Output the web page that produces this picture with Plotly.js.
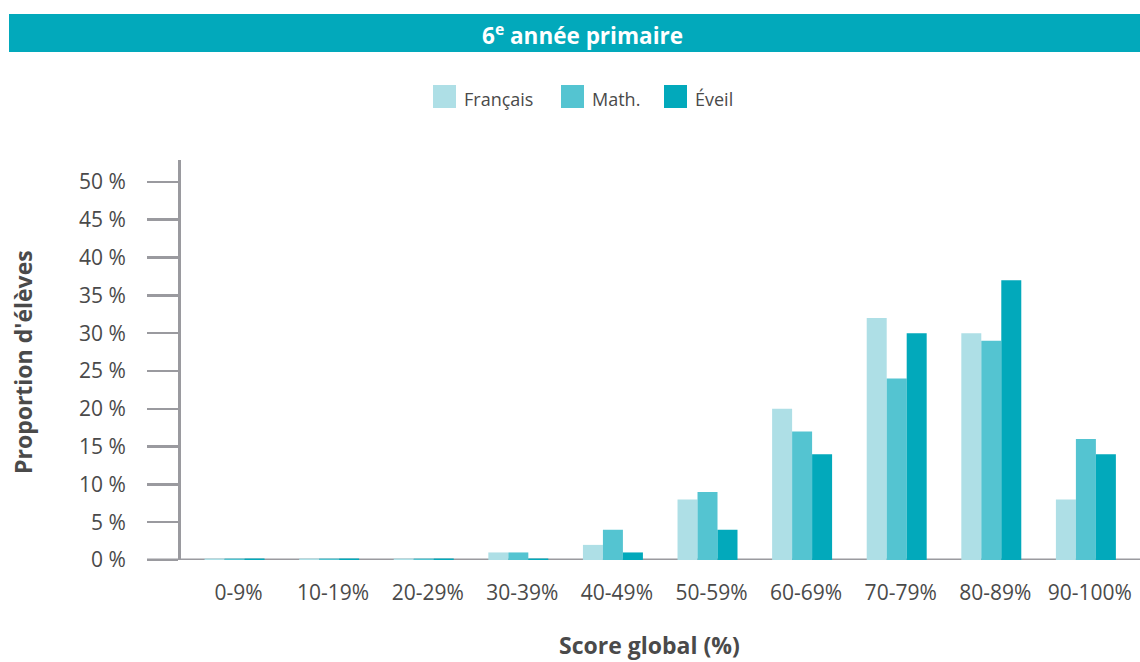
<!DOCTYPE html>
<html>
<head>
<meta charset="utf-8">
<script src="https://cdn.plot.ly/plotly-3.0.1.min.js"></script>
<style>html,body{margin:0;padding:0;background:#fff;}#chart{width:1140px;height:662px;}</style>
</head>
<body>
<div id="chart"></div>
<script>
// ---- data ----
const categories = ['0-9%','10-19%','20-29%','30-39%','40-49%','50-59%','60-69%','70-79%','80-89%','90-100%'];
const seriesNames = ['Français','Math.','Éveil'];
const francais = [0.2, 0.2, 0.2, 1, 2, 8, 20, 32, 30, 8];
const math     = [0.2, 0.2, 0.2, 1, 4, 9, 17, 24, 29, 16];
const eveil    = [0.2, 0.2, 0.2, 0.2, 1, 4, 14, 30, 37, 14];
const yTickVals = [0, 5, 10, 15, 20, 25, 30, 35, 40, 45, 50];
const yTickText = ['0 %', '5 %', '10 %', '15 %', '20 %', '25 %', '30 %', '35 %', '40 %', '45 %', '50 %'];
const chartTitle = '6<sup>e</sup> année primaire';
const xTitle = 'Score global (%)';
const yTitle = "Proportion d'élèves";

// ---- styling ----
const W = 1140, H = 662;
const px = x => x / W;
const py = y => 1 - y / H;
const colors = ['#aedfe6', '#54c4d1', '#02a9bb'];
const axisGray = '#9a9a9f';
const textGray = '#4a4a4a';
const FONT = 'Open Sans, Noto Sans, sans-serif';

const values = [francais, math, eveil];
const traces = values.map((v, i) => ({
  type: 'bar', x: categories, y: v, name: seriesNames[i],
  marker: {color: colors[i], line: {width: 0}},
  hoverinfo: 'x+y', showlegend: false
}));

// custom legend (larger swatches like the reference)
const legendSwatchX = [433, 561, 664];
const shapes = [
  // title band
  {type: 'rect', xref: 'paper', yref: 'paper', x0: px(9), x1: px(1140), y0: py(52), y1: py(14),
   fillcolor: '#02a9bb', line: {width: 0}, layer: 'below'},
  // baseline
  {type: 'line', xref: 'paper', yref: 'y', x0: px(147), x1: px(1140), y0: 0, y1: 0,
   line: {color: axisGray, width: 3}, layer: 'below'}
];
const annotations = [
  {text: '<b>' + chartTitle + '</b>', xref: 'paper', yref: 'paper', x: px(582), y: py(34),
   xanchor: 'center', yanchor: 'middle', showarrow: false, font: {family: FONT, size: 22.5, color: '#ffffff'}},
  {text: '<b>' + xTitle + '</b>', xref: 'paper', yref: 'paper', x: px(649), y: py(645),
   xanchor: 'center', yanchor: 'middle', showarrow: false, font: {family: FONT, size: 23, color: textGray}},
  {text: '<b>' + yTitle + '</b>', xref: 'paper', yref: 'paper', x: px(23), y: py(362),
   xanchor: 'center', yanchor: 'middle', textangle: -90, showarrow: false, font: {family: FONT, size: 23, color: textGray}}
];
seriesNames.forEach((n, i) => {
  const x0 = legendSwatchX[i];
  shapes.push({type: 'rect', xref: 'paper', yref: 'paper', x0: px(x0), x1: px(x0 + 23), y0: py(108), y1: py(85),
    fillcolor: colors[i], line: {width: 0}});
  annotations.push({text: n, xref: 'paper', yref: 'paper', x: px(x0 + 29), y: py(99),
    xanchor: 'left', yanchor: 'middle', showarrow: false, font: {family: FONT, size: 18, color: textGray}});
});

const layout = {
  width: W, height: H,
  margin: {l: 0, r: 0, t: 0, b: 0},
  paper_bgcolor: '#ffffff', plot_bgcolor: '#ffffff',
  barmode: 'group', bargap: 0.366, bargroupgap: 0,
  showlegend: false,
  font: {family: FONT, color: textGray},
  xaxis: {
    domain: [px(181), 1], type: 'category', range: [-0.566, 9.572],
    showline: false, showgrid: false, zeroline: false, ticks: '',
    tickfont: {family: FONT, size: 21, color: textGray},
    ticklabelstandoff: 18, ticklabelshift: 4, automargin: false
  },
  yaxis: {
    domain: [py(560), py(160)], range: [0, 52.9],
    showline: true, linecolor: axisGray, linewidth: 3,
    showgrid: false, zeroline: false,
    ticks: 'outside', ticklen: 31, tickwidth: 2.5, tickcolor: axisGray,
    tickmode: 'array', tickvals: yTickVals, ticktext: yTickText,
    tickfont: {family: FONT, size: 21, color: textGray},
    ticklabelstandoff: 17, automargin: false
  },
  shapes: shapes,
  annotations: annotations
};

Plotly.newPlot('chart', traces, layout, {displayModeBar: false, staticPlot: true});
</script>
</body>
</html>
